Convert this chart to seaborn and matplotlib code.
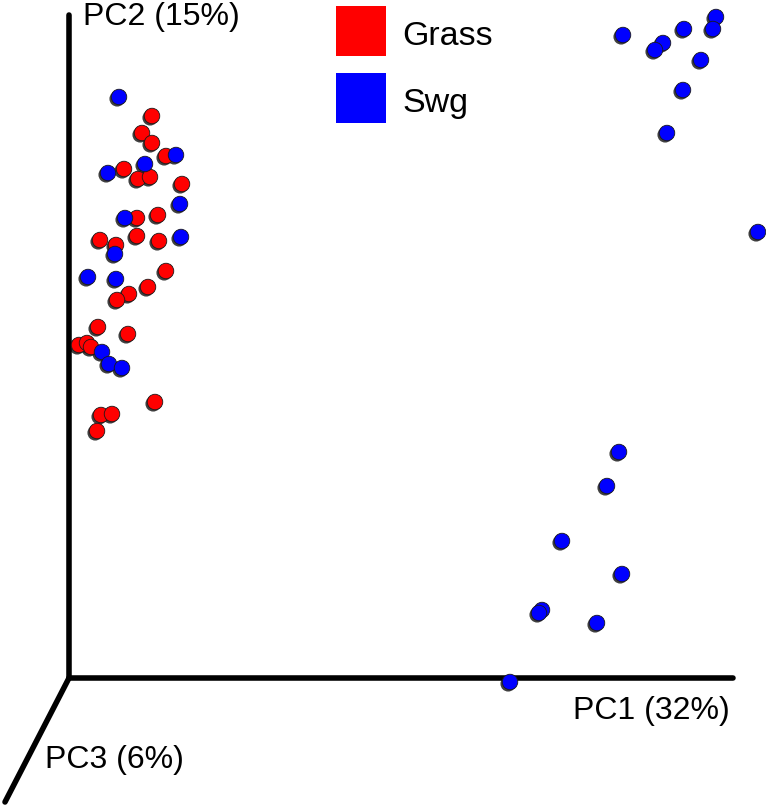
import pandas as pd
import matplotlib.pyplot as plt
import matplotlib.patheffects as pe
from matplotlib.patches import Rectangle
import seaborn as sns

# projected sample positions (screen units)
grass_x = [152, 142, 152, 166, 124, 138, 150, 182, 137, 158, 100, 137, 159, 116,
           166, 148, 129, 117, 98, 128, 79, 87, 91, 155, 101, 112, 97]
grass_y = [116, 133, 143, 156, 169, 179, 177, 184, 218, 215, 240, 236, 241, 245,
           271, 287, 294, 300, 327, 334, 345, 343, 347, 402, 415, 414, 431]
swg_x = [119, 176, 145, 108, 180, 125, 181, 115, 88, 116, 102, 109, 122,
         623, 663, 655, 684, 716, 713, 701, 683, 667, 758,
         619, 607, 562, 622, 542, 539, 597, 510]
swg_y = [97, 155, 164, 173, 204, 218, 237, 254, 277, 279, 352, 364, 368,
         35, 43, 50, 29, 17, 29, 60, 90, 133, 232,
         452, 486, 541, 574, 610, 613, 623, 682]

groups = ["Grass", "Swg"]
colors = {"Grass": "#ff0000", "Swg": "#0000ff"}
axis_labels = ["PC1 (32%)", "PC2 (15%)", "PC3 (6%)"]

df = pd.concat([
    pd.DataFrame({"x": grass_x, "y": grass_y, "group": "Grass"}),
    pd.DataFrame({"x": swg_x, "y": swg_y, "group": "Swg"}),
], ignore_index=True)

sns.set_style("white")
plt.rcParams["font.family"] = ["Liberation Sans", "DejaVu Sans"]
plt.rcParams["text.color"] = "black"

fig = plt.figure(figsize=(7.66, 8.06), dpi=100)
ax = fig.add_axes([0, 0, 1, 1])
ax.set_xlim(0, 766)
ax.set_ylim(806, 0)
ax.axis("off")

# pseudo-3D axes
ax.plot([69, 69], [15, 678], color="black", lw=4, solid_capstyle="round", zorder=1)
ax.plot([69, 733], [678, 678], color="black", lw=4, solid_capstyle="round", zorder=1)
ax.plot([69, 5], [678, 802], color="black", lw=4, solid_capstyle="round", zorder=1)

ax.text(573, 719, axis_labels[0], fontsize=23, ha="left", va="baseline")
ax.text(83, 25, axis_labels[1], fontsize=23, ha="left", va="baseline")
ax.text(45, 768, axis_labels[2], fontsize=23, ha="left", va="baseline")

sns.scatterplot(data=df, x="x", y="y", hue="group", palette=colors,
                s=125, edgecolor="#1a1a1a", linewidth=0.6, legend=False,
                ax=ax, zorder=3)
for coll in ax.collections:
    coll.set_path_effects([pe.SimplePatchShadow(offset=(-1.3, -1.3), shadow_rgbFace="black", alpha=0.75),
                           pe.Normal()])

# legend
for i, g in enumerate(groups):
    top = 6 + i * 67
    ax.add_patch(Rectangle((336, top), 50, 50, facecolor=colors[g], edgecolor="none"))
    ax.text(402, top + 39, g, fontsize=24.5, ha="left", va="baseline")

fig.savefig("out.png", dpi=100)
